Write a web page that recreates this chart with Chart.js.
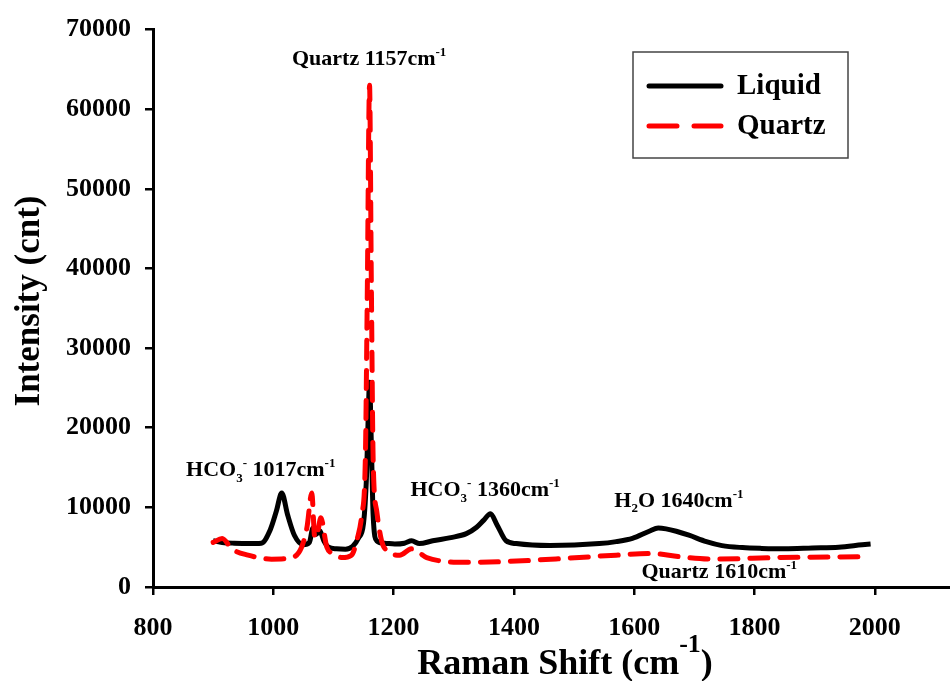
<!DOCTYPE html>
<html>
<head>
<meta charset="utf-8">
<script src="https://cdn.jsdelivr.net/npm/chart.js@4.4.1/dist/chart.umd.min.js"></script>
<style>
  html, body { margin: 0; padding: 0; background: #fff; }
  #wrap { width: 950px; height: 681px; }
</style>
</head>
<body>
<div id="wrap"><canvas id="raman"></canvas></div>
<script>
// Raman shift (cm-1) and intensity (cnt)
const liquidShift = [900, 915, 935, 960, 980, 995, 1005, 1014, 1024, 1035, 1050, 1060, 1066, 1071, 1077, 1084, 1092, 1105, 1120, 1132, 1142, 1150, 1155, 1158, 1160, 1163, 1166, 1172, 1185, 1202, 1218, 1230, 1243, 1265, 1295, 1321, 1338, 1350, 1361, 1372, 1387, 1404, 1460, 1542, 1570, 1597, 1625, 1640, 1653, 1670, 1691, 1720, 1746, 1780, 1812, 1850, 1896, 1940, 1979, 1993];
const liquidCounts = [5800, 5600, 5500, 5450, 5500, 7200, 9500, 11800, 9000, 6500, 5300, 5600, 7400, 6600, 7100, 5800, 5000, 4800, 4750, 5100, 6200, 8000, 14000, 22000, 25700, 18000, 9000, 5800, 5500, 5400, 5500, 5800, 5450, 5800, 6200, 6700, 7500, 8400, 9200, 7800, 5800, 5450, 5200, 5450, 5700, 6100, 7000, 7400, 7300, 7000, 6500, 5700, 5200, 4950, 4850, 4800, 4900, 5000, 5300, 5400];

const quartzShift = [900, 915, 931, 958, 997, 1031, 1047, 1056, 1064, 1069, 1074, 1079, 1089, 1100, 1114, 1130, 1140, 1147, 1153, 1156, 1160, 1163, 1166, 1172, 1180, 1190, 1210, 1230, 1255, 1321, 1387, 1487, 1570, 1630, 1675, 1729, 1841, 1990];
const quartzCounts = [5600, 6100, 4800, 4000, 3500, 3700, 5000, 7500, 11800, 6200, 7000, 8700, 5000, 4200, 3700, 4000, 6200, 9000, 16000, 35000, 63000, 38000, 16000, 9500, 5800, 4500, 4000, 4800, 3700, 3100, 3200, 3600, 4000, 4200, 3800, 3500, 3700, 3800];

const xTicks = [800, 1000, 1200, 1400, 1600, 1800, 2000];
const yTicks = [0, 10000, 20000, 30000, 40000, 50000, 60000, 70000];

// peak labels: [text, style] pieces, anchored at left/baseline in data units
const peakNotes = [
  { x: 1031, y: 65500, parts: [["Quartz 1157cm", ""], ["-1", "sup"]] },
  { x: 855, y: 13900, parts: [["HCO", ""], ["3", "sub"], ["-", "sup"], [" 1017cm", ""], ["-1", "sup"]] },
  { x: 1228, y: 11400, parts: [["HCO", ""], ["3", "sub"], ["-", "sup"], [" 1360cm", ""], ["-1", "sup"]] },
  { x: 1567, y: 10060, parts: [["H", ""], ["2", "sub"], ["O 1640cm", ""], ["-1", "sup"]] },
  { x: 1612, y: 1100, parts: [["Quartz 1610cm", ""], ["-1", "sup"]] },
];

const SERIF = "'Liberation Serif', 'Times New Roman', serif";

const toPoints = (xs, ys) => xs.map((x, i) => ({ x: x, y: ys[i] }));

// draws text made of normal / sup / sub pieces
function richText(ctx, parts, x, y, size) {
  ctx.textAlign = "left";
  ctx.textBaseline = "alphabetic";
  for (const [txt, mode] of parts) {
    let fs = size, dy = 0;
    if (mode === "sup") { fs = Math.round(size * 0.6); dy = -size * 0.42; }
    if (mode === "sub") { fs = Math.round(size * 0.6); dy = size * 0.25; }
    ctx.font = "bold " + fs + "px " + SERIF;
    ctx.fillText(txt, x, y + dy);
    x += ctx.measureText(txt).width;
  }
  return x;
}

const decorations = {
  id: "decorations",
  afterDatasetsDraw(chart) {
    const { ctx, scales } = chart;
    ctx.save();
    ctx.fillStyle = "#000";

    peakNotes.forEach((n) => {
      richText(ctx, n.parts, scales.x.getPixelForValue(n.x), scales.y.getPixelForValue(n.y), 22);
    });

    // legend box
    const bx = 633, by = 52, bw = 215, bh = 106;
    ctx.fillStyle = "#fff";
    ctx.fillRect(bx, by, bw, bh);
    ctx.strokeStyle = "#444";
    ctx.lineWidth = 1.5;
    ctx.strokeRect(bx, by, bw, bh);
    chart.data.datasets.forEach((ds, i) => {
      const ly = 86 + i * 40;
      ctx.beginPath();
      ctx.strokeStyle = ds.borderColor;
      ctx.lineWidth = 5;
      ctx.lineCap = "round";
      ctx.setLineDash(ds.borderDash.length ? [28, 17] : []);
      ctx.moveTo(649, ly);
      ctx.lineTo(721, ly);
      ctx.stroke();
      ctx.setLineDash([]);
      ctx.fillStyle = "#000";
      ctx.font = "bold 29px " + SERIF;
      ctx.textBaseline = "middle";
      ctx.textAlign = "left";
      ctx.fillText(ds.label, 737, ly + 1);
    });

    // axis titles
    ctx.fillStyle = "#000";
    ctx.textBaseline = "alphabetic";
    ctx.font = "bold 36px " + SERIF;
    const main = "Raman Shift (cm";
    const w1 = ctx.measureText(main).width, w3 = ctx.measureText(")").width;
    ctx.font = "bold 26px " + SERIF;
    const w2 = ctx.measureText("-1").width;
    let cx = 565 - (w1 + w2 + w3) / 2;
    ctx.font = "bold 36px " + SERIF;
    ctx.fillText(main, cx, 674);
    cx += w1;
    ctx.font = "bold 26px " + SERIF;
    ctx.fillText("-1", cx, 652);
    cx += w2;
    ctx.font = "bold 36px " + SERIF;
    ctx.fillText(")", cx, 674);

    ctx.translate(30, 301);
    ctx.rotate(-Math.PI / 2);
    ctx.font = "bold 35px " + SERIF;
    ctx.textAlign = "center";
    ctx.textBaseline = "middle";
    ctx.fillText("Intensity (cnt)", 0, 0);
    ctx.restore();
  },
};

const tickFont = { family: SERIF, size: 26, weight: "bold" };

new Chart(document.getElementById("raman"), {
  type: "line",
  data: {
    datasets: [
      {
        label: "Liquid",
        data: toPoints(liquidShift, liquidCounts),
        borderColor: "#000000",
        borderWidth: 5,
        borderDash: [],
        pointRadius: 0,
        cubicInterpolationMode: "monotone",
        order: 1,
      },
      {
        label: "Quartz",
        data: toPoints(quartzShift, quartzCounts),
        borderColor: "#ff0000",
        borderWidth: 5,
        borderDash: [18, 12],
        borderCapStyle: "round",
        pointRadius: 0,
        cubicInterpolationMode: "monotone",
        order: 0,
      },
    ],
  },
  options: {
    responsive: true,
    maintainAspectRatio: false,
    animation: false,
    layout: { padding: { top: 23, right: 0, left: 0, bottom: 0 } },
    plugins: { legend: { display: false }, tooltip: { enabled: false } },
    scales: {
      x: {
        type: "linear",
        min: 800,
        max: 2125,
        afterFit: (s) => { s.height = 94; },
        afterBuildTicks: (s) => { s.ticks = xTicks.map((v) => ({ value: v })); },
        ticks: { font: tickFont, color: "#000", padding: 18, maxRotation: 0, callback: (v) => String(v) },
        grid: { drawOnChartArea: false, drawTicks: true, tickLength: 8, color: "#000", lineWidth: 2.5 },
        border: { color: "#000", width: 3 },
      },
      y: {
        min: 0,
        max: 70000,
        afterFit: (s) => { s.width = 153; },
        afterBuildTicks: (s) => { s.ticks = yTicks.map((v) => ({ value: v })); },
        ticks: { font: tickFont, color: "#000", padding: 14, callback: (v) => String(v) },
        grid: { drawOnChartArea: false, drawTicks: true, tickLength: 8, color: "#000", lineWidth: 2.5 },
        border: { color: "#000", width: 3 },
      },
    },
  },
  plugins: [decorations],
});
</script>
</body>
</html>
